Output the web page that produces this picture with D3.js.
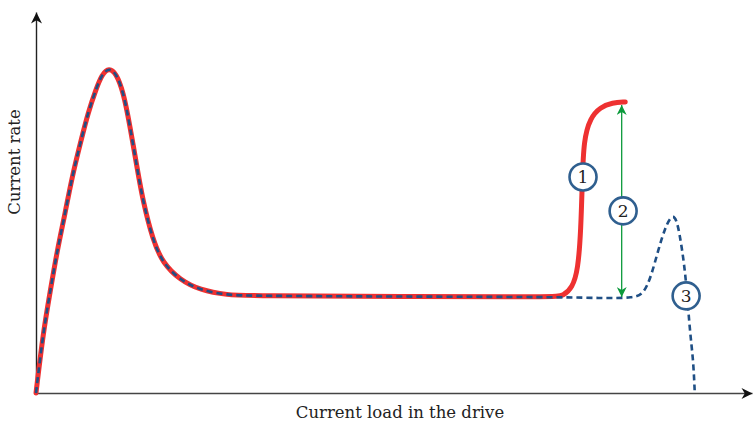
<!DOCTYPE html>
<html>
<head>
<meta charset="utf-8">
<script src="https://cdn.jsdelivr.net/npm/d3@7"></script>
<style>
  body { margin: 0; background: #fff; }
  text { font-family: "DejaVu Serif", "Liberation Serif", serif; fill: #222; }
</style>
</head>
<body>
<div id="chart"></div>
<script>
// chart size
var svgWidth = 756;
var svgHeight = 421;

var margin = { top: 12, right: 4, bottom: 28, left: 36 };
var width = svgWidth - margin.left - margin.right;
var height = svgHeight - margin.top - margin.bottom;

// shared start of both curves (load, rate) in arbitrary units 0-100
var commonLoad = [0, 1.0, 2.0, 2.9, 4.1, 5.0, 6.2, 7.3, 8.4, 9.2, 10.2, 11.2, 12.2, 13.1, 14.1, 14.9, 16.3, 17.7, 20.1, 22.9, 26.7, 30.3, 50.8, 72.5];
var commonRate = [0, 15.8, 26.8, 36.8, 47.5, 56.4, 65.6, 73.8, 79.8, 83.6, 85.4, 83.9, 79.0, 70.3, 59.3, 50.7, 40.2, 34.1, 29.7, 27.0, 25.7, 25.5, 25.3, 25.2];

// curve 1 (red, sharp rise)
var redLoad = [72.5, 73.6, 74.9, 75.7, 76.1, 76.3, 76.5, 77.4, 78.8, 80.5, 82.3];
var redRate = [25.2, 25.5, 27.6, 32.3, 42.8, 55.9, 66.4, 72.2, 75.0, 76.2, 76.4];

// curve 3 (dashed, bump then drop)
var dashLoad = [72.5, 78.8, 83.6, 84.9, 85.9, 86.9, 87.9, 88.8, 89.5, 90.2, 90.8, 91.3, 91.8, 92.0];
var dashRate = [25.2, 24.9, 24.9, 26.2, 30.5, 37.5, 43.6, 46.8, 45.8, 38.3, 29.7, 16.5, 8.7, 0.3];

// green arrow (label 2)
var arrowLoad = 81.8;
var arrowRate = [75.6, 25.2];

// numbered markers
var markerLabels = ["1", "2", "3"];
var markerLoad = [76.4, 82.0, 90.8];
var markerRate = [56.7, 47.8, 25.5];

var xTitle = "Current load in the drive";
var yTitle = "Current rate";

var svg = d3.select("#chart")
  .append("svg")
  .attr("width", svgWidth)
  .attr("height", svgHeight);

var defs = svg.append("defs");
function addArrow(id, color, w, h) {
  defs.append("marker")
    .attr("id", id)
    .attr("viewBox", "0 0 10 10")
    .attr("refX", 10)
    .attr("refY", 5)
    .attr("markerWidth", w)
    .attr("markerHeight", h)
    .attr("markerUnits", "userSpaceOnUse")
    .attr("orient", "auto-start-reverse")
    .append("path")
    .attr("d", "M0,0 L10,5 L0,10 L3,5 Z")
    .attr("fill", color);
}
addArrow("axisArrow", "#111", 13, 11);
addArrow("greenArrow", "#0c9a3c", 11, 10);

var chartGroup = svg.append("g")
  .attr("transform", `translate(${margin.left}, ${margin.top})`);

var x = d3.scaleLinear().domain([0, 100]).range([0, width]);
var y = d3.scaleLinear().domain([0, 100]).range([height, 0]);

// axes without ticks
var xAxis = chartGroup.append("g")
  .attr("transform", `translate(0, ${height})`)
  .call(d3.axisBottom(x).ticks(0).tickSizeOuter(0));
var yAxis = chartGroup.append("g")
  .call(d3.axisLeft(y).ticks(0).tickSizeOuter(0));

xAxis.select(".domain").attr("stroke", "#444").attr("stroke-width", 1.6)
  .attr("marker-end", "url(#axisArrow)");
yAxis.select(".domain").attr("stroke", "#222").attr("stroke-width", 1.4)
  .attr("marker-end", "url(#axisArrow)");

var line = d3.line()
  .x(d => x(d[0]))
  .y(d => y(d[1]))
  .curve(d3.curveBasis);

var common = commonLoad.map((v, i) => [v, commonRate[i]]);
var red = redLoad.map((v, i) => [v, redRate[i]]);
var dash = dashLoad.map((v, i) => [v, dashRate[i]]);

// red thick curve
chartGroup.append("path")
  .attr("d", line(common.concat(red.slice(1))))
  .attr("fill", "none")
  .attr("stroke", "#ee3131")
  .attr("stroke-width", 5)
  .attr("stroke-linecap", "round")
  .attr("stroke-linejoin", "round");

// dashed blue curve
chartGroup.append("path")
  .attr("d", line(common.concat(dash.slice(1))))
  .attr("fill", "none")
  .attr("stroke", "#1f4f85")
  .attr("stroke-width", 2.6)
  .attr("stroke-dasharray", "6,4");

// green double arrow
chartGroup.append("line")
  .attr("x1", x(arrowLoad))
  .attr("x2", x(arrowLoad))
  .attr("y1", y(arrowRate[1]))
  .attr("y2", y(arrowRate[0]))
  .attr("stroke", "#0c9a3c")
  .attr("stroke-width", 1.3)
  .attr("marker-start", "url(#greenArrow)")
  .attr("marker-end", "url(#greenArrow)");

// numbered circles
var markers = chartGroup.selectAll(".num")
  .data(markerLabels)
  .enter()
  .append("g")
  .attr("transform", (d, i) => `translate(${x(markerLoad[i])}, ${y(markerRate[i])})`);

markers.append("circle")
  .attr("r", 13.5)
  .attr("fill", "#fff")
  .attr("stroke", "#2f5f8f")
  .attr("stroke-width", 2.6);

markers.append("text")
  .attr("text-anchor", "middle")
  .attr("dy", "0.36em")
  .attr("font-size", 17)
  .text(d => d);

// axis titles
svg.append("text")
  .attr("x", 400)
  .attr("y", 418)
  .attr("text-anchor", "middle")
  .attr("font-size", 16.5)
  .text(xTitle);

svg.append("text")
  .attr("transform", "rotate(-90)")
  .attr("x", -162)
  .attr("y", 20)
  .attr("text-anchor", "middle")
  .attr("font-size", 16.5)
  .text(yTitle);
</script>
</body>
</html>
